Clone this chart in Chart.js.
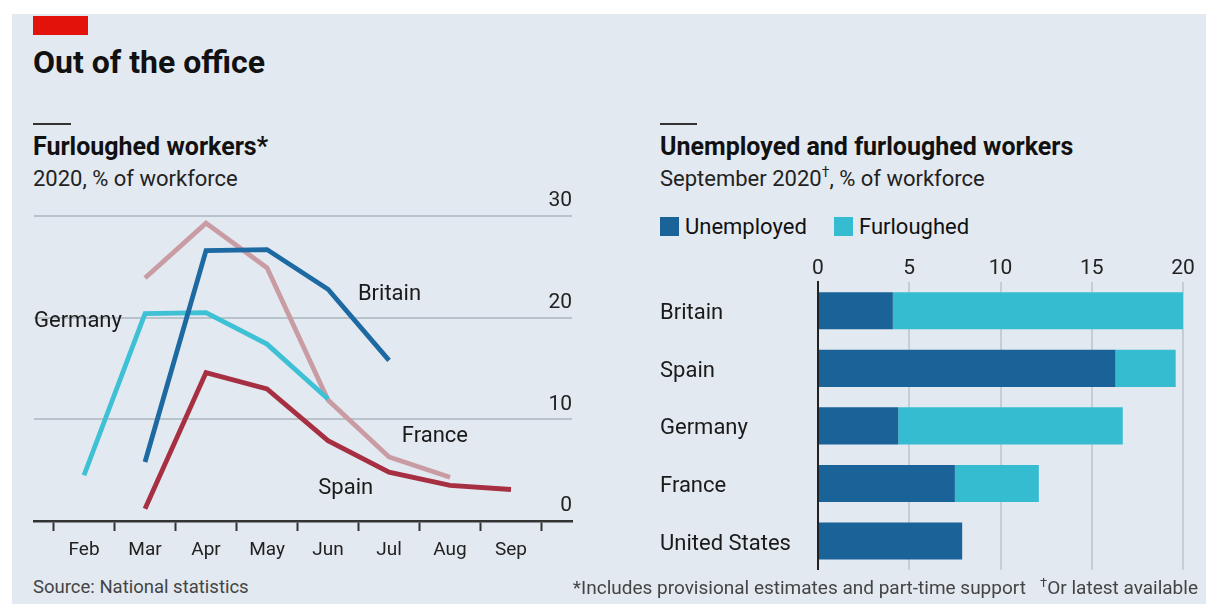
<!DOCTYPE html>
<html lang="en">
<head>
<meta charset="UTF-8">
<title>Out of the office</title>
<style>
  html, body { margin: 0; padding: 0; }
  body { width: 1206px; height: 604px; overflow: hidden; position: relative; background: #fff; font-family: Roboto, sans-serif; color: #111; }
  #panel { position: absolute; left: 12px; top: 14px; width: 1194px; height: 590px; background: #e3e9f0; }
  .t { position: absolute; white-space: nowrap; line-height: 1; }
  .rule { position: absolute; height: 2px; background: #333; }
  .box { position: absolute; width: 19px; height: 19px; }
  .dag { position: relative; top: -9px; font-size: 14px; }
  canvas { position: absolute; }
</style>
</head>
<body>
<div id="panel"></div>
<div style="position:absolute;left:33px;top:16px;width:55px;height:19px;background:#e3120b"></div>
<div class="t" style="left:33px;top:46px;font-size:32px;font-weight:700">Out of the office</div>

<div class="rule" style="left:33px;top:123px;width:38px"></div>
<div class="t" style="left:33px;top:134px;font-size:25px;font-weight:700">Furloughed workers*</div>
<div class="t" style="left:33px;top:168px;font-size:22px;color:#222">2020, % of workforce</div>

<div class="rule" style="left:660px;top:123px;width:37px"></div>
<div class="t" style="left:660px;top:134px;font-size:25px;font-weight:700">Unemployed and furloughed workers</div>
<div class="t" style="left:660px;top:168px;font-size:22px;color:#222">September 2020<span class="dag">†</span>, % of workforce</div>

<div id="legend"></div>

<canvas id="lines" width="560" height="380" style="left:20px;top:190px"></canvas>
<canvas id="bars" width="556" height="346" style="left:650px;top:240px"></canvas>

<div class="t" style="left:33px;top:578px;font-size:18.5px;color:#444">Source: National statistics</div>
<div class="t" style="right:8px;top:578px;font-size:19px;color:#444">*Includes provisional estimates and part-time support&nbsp;&nbsp;&nbsp;<span class="dag" style="font-size:13px;top:-7px">†</span>Or latest available</div>

<script src="https://cdn.jsdelivr.net/npm/chart.js"></script>
<script>
  // left panel: furloughed workers, % of workforce
  const months = ['Feb', 'Mar', 'Apr', 'May', 'Jun', 'Jul', 'Aug', 'Sep'];
  const britain = [null, 5.8, 26.6, 26.7, 22.8, 15.8, null, null];
  const germany = [4.5, 20.4, 20.5, 17.4, 12.0, null, null, null];
  const france  = [null, 23.9, 29.3, 24.9, 11.9, 6.3, 4.3, null];
  const spain   = [null, 1.2, 14.6, 13.0, 7.9, 4.8, 3.5, 3.1];
  const lineTicks = [0, 10, 20, 30];

  // right panel: September 2020
  const countries = ['Britain', 'Spain', 'Germany', 'France', 'United States'];
  const unemployed = [4.1, 16.3, 4.4, 7.5, 7.9];
  const furloughed = [15.9, 3.3, 12.3, 4.6, 0];
  const barTicks = [0, 5, 10, 15, 20];

  const darkBlue = '#1a6399';
  const cyan = '#36bcd1';
  const clear = 'rgba(0,0,0,0)';

  Chart.defaults.font.family = 'Roboto, sans-serif';
  Chart.defaults.color = '#1a1a1a';

  // month n sits at x = n (Feb = 2)
  function toPoints(arr) {
    return arr.map((v, i) => ({ x: i + 2, y: v }));
  }
  const monthEdges = months.map((m, i) => i + 1.5).concat(months.length + 1.5);

  // names written next to the lines, placed in data units
  const lineLabels = [
    { text: 'Germany', x: 1.18, y: 19.6 },
    { text: 'Britain', x: 6.49, y: 22.3 },
    { text: 'France', x: 7.21, y: 8.3 },
    { text: 'Spain', x: 5.84, y: 3.2 }
  ];
  const lineLabelPlugin = {
    id: 'lineLabels',
    afterDatasetsDraw(chart) {
      const { ctx, scales: { x, y } } = chart;
      ctx.save();
      ctx.font = '22px Roboto, sans-serif';
      ctx.fillStyle = '#1a1a1a';
      ctx.textBaseline = 'middle';
      ctx.textAlign = 'left';
      lineLabels.forEach(l => ctx.fillText(l.text, x.getPixelForValue(l.x), y.getPixelForValue(l.y)));
      ctx.restore();
    }
  };

  new Chart(document.getElementById('lines'), {
    type: 'line',
    data: {
      datasets: [
        { label: 'Britain', data: toPoints(britain), borderColor: '#1d69a1' },
        { label: 'Germany', data: toPoints(germany), borderColor: '#3ec0d5' },
        { label: 'France', data: toPoints(france), borderColor: '#c99ca3' },
        { label: 'Spain', data: toPoints(spain), borderColor: '#a62f42' }
      ]
    },
    options: {
      responsive: false,
      animation: false,
      layout: { padding: { left: 14, right: 8, top: 26, bottom: 9 } },
      plugins: { legend: { display: false }, tooltip: { enabled: false } },
      elements: {
        line: { borderWidth: 4.8, tension: 0, fill: false },
        point: { radius: 0 }
      },
      scales: {
        x: {
          type: 'linear',
          min: 1.18,
          max: 10,
          afterBuildTicks: s => { s.ticks = monthEdges.map(v => ({ value: v })); },
          afterFit: s => { s.height = 40; },
          grid: { drawOnChartArea: false, tickLength: 10, tickWidth: 2, tickColor: '#333' },
          border: { color: '#333', width: 2.5 },
          ticks: {
            callback: (v, i) => months[i] || '',
            labelOffset: 30.5,
            padding: 8,
            autoSkip: false,
            maxRotation: 0,
            font: { size: 19 },
            color: '#222'
          }
        },
        y: {
          position: 'right',
          min: 0,
          max: 30,
          afterBuildTicks: s => { s.ticks = lineTicks.map(v => ({ value: v })); },
          grid: {
            color: c => (c.tick && c.tick.value === 0) ? clear : '#b8c2cb',
            lineWidth: 2,
            drawTicks: false
          },
          border: { display: false },
          ticks: { mirror: true, padding: 0, labelOffset: -15, font: { size: 21 }, color: '#222' }
        }
      }
    },
    plugins: [lineLabelPlugin]
  });

  const barChart = new Chart(document.getElementById('bars'), {
    type: 'bar',
    data: {
      labels: countries,
      datasets: [
        { label: 'Unemployed', data: unemployed, backgroundColor: darkBlue },
        { label: 'Furloughed', data: furloughed, backgroundColor: cyan }
      ]
    },
    options: {
      indexAxis: 'y',
      responsive: false,
      animation: false,
      layout: { padding: { left: 10, right: 23, top: 10, bottom: 5 } },
      plugins: { legend: { display: false }, tooltip: { enabled: false } },
      datasets: { bar: { barPercentage: 1, categoryPercentage: 0.645 } },
      scales: {
        x: {
          position: 'top',
          stacked: true,
          min: 0,
          max: 20,
          afterBuildTicks: s => { s.ticks = barTicks.map(v => ({ value: v })); },
          afterFit: s => { s.height = 32; },
          grid: {
            color: c => (c.tick && c.tick.value === 0) ? clear : '#c6cdd4',
            lineWidth: 2,
            drawTicks: false
          },
          border: { display: false },
          ticks: { padding: 1, font: { size: 21 }, color: '#222' }
        },
        y: {
          stacked: true,
          afterFit: s => { s.width = 158; },
          grid: { display: false },
          border: { display: true, color: '#222', width: 2 },
          ticks: { crossAlign: 'far', labelOffset: 3, font: { size: 22 }, color: '#1a1a1a' }
        }
      }
    }
  });

  // legend boxes above the bars, taken from the chart's datasets
  const legendPos = [660, 834];
  const legend = document.getElementById('legend');
  barChart.data.datasets.forEach((ds, i) => {
    const b = document.createElement('div');
    b.className = 'box';
    b.style.left = legendPos[i] + 'px';
    b.style.top = '217px';
    b.style.background = ds.backgroundColor;
    legend.appendChild(b);
    const t = document.createElement('div');
    t.className = 't';
    t.style.left = (legendPos[i] + 25) + 'px';
    t.style.top = '216px';
    t.style.fontSize = '22px';
    t.textContent = ds.label;
    legend.appendChild(t);
  });
</script>
</body>
</html>
